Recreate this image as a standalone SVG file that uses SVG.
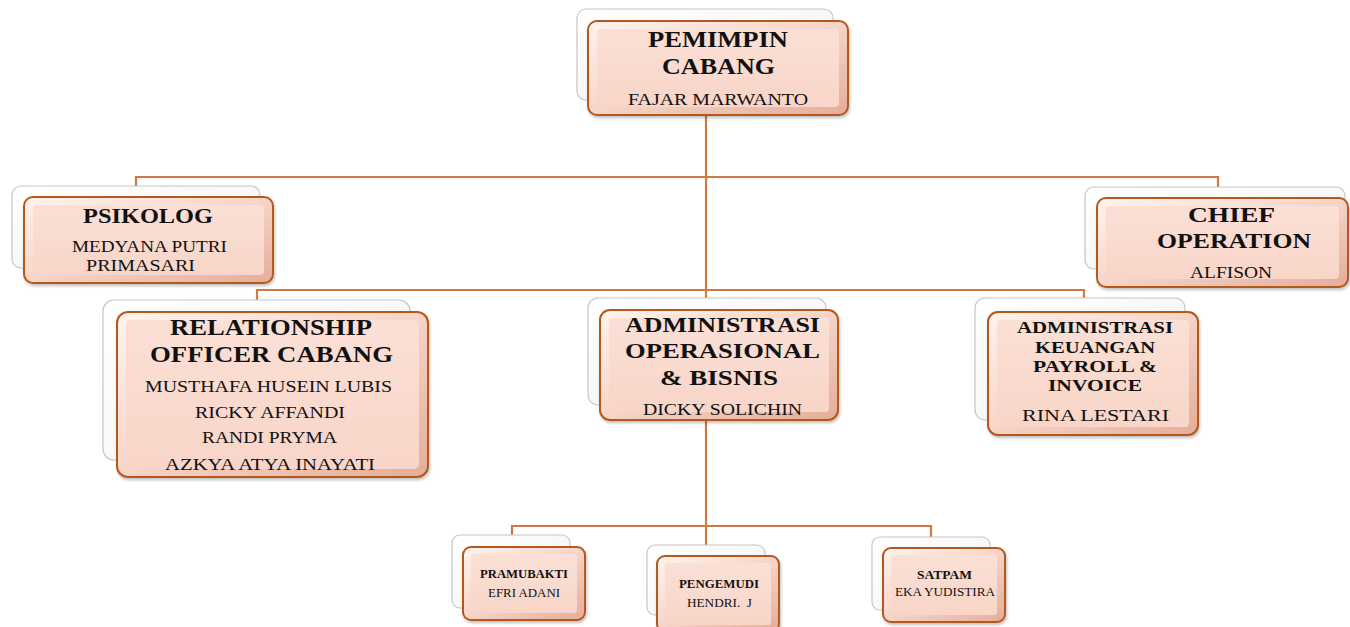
<svg xmlns="http://www.w3.org/2000/svg" width="1350" height="627" viewBox="0 0 1350 627">
<defs>
<linearGradient id="back" x1="0" y1="0" x2="1" y2="1">
<stop offset="0" stop-color="#ffffff"/><stop offset="0.7" stop-color="#f6f6f6"/><stop offset="1" stop-color="#d6d6d6"/>
</linearGradient>
<linearGradient id="edge" x1="0" y1="0" x2="1" y2="1">
<stop offset="0" stop-color="#fff3ee"/><stop offset="0.45" stop-color="#f8d8cc"/><stop offset="1" stop-color="#e4ad98"/>
</linearGradient>
<linearGradient id="face" x1="0" y1="0" x2="0" y2="1">
<stop offset="0" stop-color="#fbe0d6"/><stop offset="1" stop-color="#f8d5c8"/>
</linearGradient>
<filter id="sh" x="-10%" y="-10%" width="130%" height="130%">
<feDropShadow dx="1" dy="2" stdDeviation="1.5" flood-color="#000" flood-opacity="0.25"/>
</filter>
</defs>
<style>
.back{fill:url(#back);stroke:#c6c6c6;stroke-width:1.2}
.front{fill:url(#edge);stroke:#b4581f;stroke-width:2;filter:url(#sh)}
.face{fill:url(#face)}
.conn{fill:none;stroke:#cf7a42;stroke-width:2.2}
text{font-family:"Liberation Serif","Times New Roman",serif;fill:#111;text-anchor:start}
.t{font-weight:bold}
</style>

<g id="connectors">
<path class="conn" d="M706 115 V310"/>
<path class="conn" d="M136 188 V177 H1218 V188"/>
<path class="conn" d="M257 300 V290 H1084 V300"/>
<path class="conn" d="M706 420 V546"/>
<path class="conn" d="M512 536 V526 H931 V538"/>
</g>

<g id="pemimpin">
<rect class="back" x="577" y="9" width="256" height="91" rx="9"/>
<rect class="front" x="588" y="21" width="260" height="94" rx="9"/>
<rect class="face" x="597" y="29" width="242" height="78" rx="4"/>
<text class="t" x="648" y="47" font-size="23" textLength="140" lengthAdjust="spacingAndGlyphs">PEMIMPIN</text>
<text class="t" x="662" y="74" font-size="23" textLength="113" lengthAdjust="spacingAndGlyphs">CABANG</text>
<text x="628" y="105" font-size="17.5" textLength="180" lengthAdjust="spacingAndGlyphs">FAJAR MARWANTO</text>
</g>

<g id="psikolog">
<rect class="back" x="12" y="186" width="248" height="82" rx="9"/>
<rect class="front" x="24" y="197" width="249" height="86" rx="9"/>
<rect class="face" x="33" y="205" width="231" height="70" rx="4"/>
<text class="t" x="83" y="223" font-size="22" textLength="130" lengthAdjust="spacingAndGlyphs">PSIKOLOG</text>
<text x="72" y="252" font-size="17" textLength="155" lengthAdjust="spacingAndGlyphs">MEDYANA PUTRI</text>
<text x="86" y="271" font-size="17" textLength="109" lengthAdjust="spacingAndGlyphs">PRIMASARI</text>
</g>

<g id="chief">
<rect class="back" x="1085" y="187" width="260" height="82" rx="9"/>
<rect class="front" x="1097" y="198" width="251" height="89" rx="9"/>
<rect class="face" x="1106" y="206" width="233" height="73" rx="4"/>
<text class="t" x="1188" y="222" font-size="22" textLength="87" lengthAdjust="spacingAndGlyphs">CHIEF</text>
<text class="t" x="1157" y="248" font-size="22" textLength="154" lengthAdjust="spacingAndGlyphs">OPERATION</text>
<text x="1190" y="278" font-size="17" textLength="82" lengthAdjust="spacingAndGlyphs">ALFISON</text>
</g>

<g id="relationship">
<rect class="back" x="103" y="300" width="307" height="160" rx="11"/>
<rect class="front" x="117" y="312" width="311" height="165" rx="11"/>
<rect class="face" x="126" y="320" width="293" height="149" rx="5"/>
<text class="t" x="170" y="335" font-size="24" textLength="202" lengthAdjust="spacingAndGlyphs">RELATIONSHIP</text>
<text class="t" x="150" y="362" font-size="24" textLength="243" lengthAdjust="spacingAndGlyphs">OFFICER CABANG</text>
<text x="145" y="392" font-size="17.5" textLength="247" lengthAdjust="spacingAndGlyphs">MUSTHAFA HUSEIN LUBIS</text>
<text x="195" y="418" font-size="17.5" textLength="150" lengthAdjust="spacingAndGlyphs">RICKY AFFANDI</text>
<text x="202" y="443" font-size="17.5" textLength="135" lengthAdjust="spacingAndGlyphs">RANDI PRYMA</text>
<text x="165" y="470" font-size="17.5" textLength="210" lengthAdjust="spacingAndGlyphs">AZKYA ATYA INAYATI</text>
</g>

<g id="adminops">
<rect class="back" x="588" y="298" width="238" height="107" rx="10"/>
<rect class="front" x="600" y="310" width="238" height="110" rx="10"/>
<rect class="face" x="609" y="318" width="220" height="94" rx="4"/>
<text class="t" x="625" y="332" font-size="22" textLength="195" lengthAdjust="spacingAndGlyphs">ADMINISTRASI</text>
<text class="t" x="625" y="358" font-size="22" textLength="195" lengthAdjust="spacingAndGlyphs">OPERASIONAL</text>
<text class="t" x="660" y="385" font-size="22" textLength="118" lengthAdjust="spacingAndGlyphs">&amp; BISNIS</text>
<text x="643" y="415" font-size="17" textLength="159" lengthAdjust="spacingAndGlyphs">DICKY SOLICHIN</text>
</g>

<g id="adminkeu">
<rect class="back" x="975" y="298" width="210" height="122" rx="10"/>
<rect class="front" x="988" y="312" width="210" height="123" rx="10"/>
<rect class="face" x="997" y="320" width="192" height="107" rx="4"/>
<text class="t" x="1017" y="333" font-size="17.5" textLength="156" lengthAdjust="spacingAndGlyphs">ADMINISTRASI</text>
<text class="t" x="1035" y="353" font-size="17.5" textLength="120" lengthAdjust="spacingAndGlyphs">KEUANGAN</text>
<text class="t" x="1033" y="372" font-size="17.5" textLength="124" lengthAdjust="spacingAndGlyphs">PAYROLL &amp;</text>
<text class="t" x="1048" y="391" font-size="17.5" textLength="94" lengthAdjust="spacingAndGlyphs">INVOICE</text>
<text x="1022" y="421" font-size="17" textLength="147" lengthAdjust="spacingAndGlyphs">RINA LESTARI</text>
</g>

<g id="pramubakti">
<rect class="back" x="452" y="535" width="118" height="73" rx="8"/>
<rect class="front" x="463" y="547" width="122" height="73" rx="8"/>
<rect class="face" x="471" y="554" width="106" height="59" rx="3"/>
<text class="t" x="480" y="578" font-size="12" textLength="88" lengthAdjust="spacingAndGlyphs">PRAMUBAKTI</text>
<text x="488" y="597" font-size="12" textLength="72" lengthAdjust="spacingAndGlyphs">EFRI ADANI</text>
</g>

<g id="pengemudi">
<rect class="back" x="647" y="545" width="118" height="70" rx="8"/>
<rect class="front" x="657" y="556" width="122" height="76" rx="8"/>
<rect class="face" x="665" y="563" width="106" height="62" rx="3"/>
<text class="t" x="679" y="588" font-size="12" textLength="80" lengthAdjust="spacingAndGlyphs">PENGEMUDI</text>
<text x="687" y="607" font-size="12" textLength="65" lengthAdjust="spacingAndGlyphs">HENDRI.&#160; J</text>
</g>

<g id="satpam">
<rect class="back" x="872" y="537" width="118" height="73" rx="8"/>
<rect class="front" x="883" y="548" width="122" height="74" rx="8"/>
<rect class="face" x="891" y="555" width="106" height="60" rx="3"/>
<text class="t" x="917" y="579" font-size="12" textLength="55" lengthAdjust="spacingAndGlyphs">SATPAM</text>
<text x="895" y="596" font-size="12" textLength="100" lengthAdjust="spacingAndGlyphs">EKA YUDISTIRA</text>
</g>
</svg>
